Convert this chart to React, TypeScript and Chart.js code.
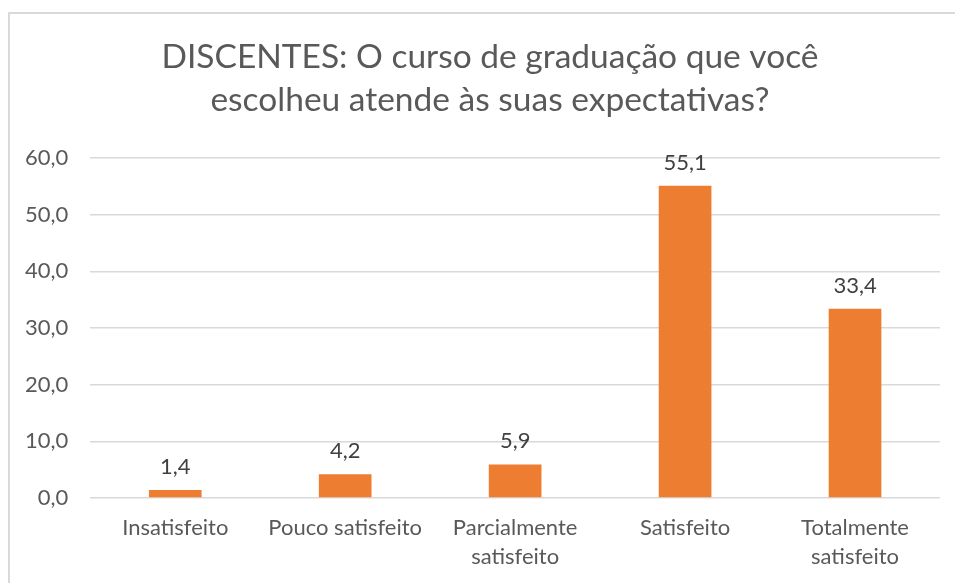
import React, { useEffect, useRef } from "react";
import { Chart, registerables } from "chart.js";

Chart.register(...registerables);

const categories: (string | string[])[] = [
  "Insatisfeito",
  "Pouco satisfeito",
  ["Parcialmente", "satisfeito"],
  "Satisfeito",
  ["Totalmente", "satisfeito"],
];
const values: number[] = [1.4, 4.2, 5.9, 55.1, 33.4];
const titleLines: string[] = [
  "DISCENTES: O curso de graduação que você",
  "escolheu atende às suas expectativas?",
];
const yMin = 0;
const yMax = 60;
const yStep = 10;

const FONT = "Lato, 'Open Sans', sans-serif";
const TEXT = "#595959";

const fmt = (v: number) => v.toFixed(1).replace(".", ",");

const dataLabels = {
  id: "dataLabels",
  afterDatasetsDraw(chart: any) {
    const ctx = chart.ctx;
    const meta = chart.getDatasetMeta(0);
    ctx.save();
    ctx.font = `22px ${FONT}`;
    ctx.fillStyle = "#404040";
    ctx.textAlign = "center";
    ctx.textBaseline = "alphabetic";
    meta.data.forEach((bar: any, i: number) => {
      ctx.fillText(fmt(values[i]), bar.x, bar.y - 16);
    });
    ctx.restore();
  },
};

const titlePlugin = {
  id: "excelTitle",
  afterDraw(chart: any) {
    const ctx = chart.ctx;
    ctx.save();
    ctx.font = `33.5px ${FONT}`;
    ctx.fillStyle = TEXT;
    ctx.textAlign = "center";
    ctx.textBaseline = "middle";
    titleLines.forEach((line, i) => {
      ctx.fillText(line, 490, 57 + i * 43);
    });
    ctx.restore();
  },
};

export default function App() {
  const ref = useRef<HTMLCanvasElement | null>(null);
  useEffect(() => {
    document.body.style.margin = "0";
    if (!ref.current) return;
    const chart = new Chart(ref.current, {
      type: "bar",
      data: {
        labels: categories as any,
        datasets: [
          {
            data: values,
            backgroundColor: "#ED7D31",
            categoryPercentage: 1,
            barPercentage: 0.31,
          },
        ],
      },
      options: {
        animation: false,
        responsive: false,
        maintainAspectRatio: false,
        layout: { padding: { left: 3, right: 15, top: 158, bottom: 5 } },
        plugins: {
          legend: { display: false },
          tooltip: { enabled: false },
          title: { display: false },
        },
        scales: {
          x: {
            grid: { display: false },
            border: { display: false },
            ticks: {
              color: TEXT,
              font: { family: FONT, size: 22, lineHeight: 1.32 },
              padding: 7,
              maxRotation: 0,
              autoSkip: false,
            },
          },
          y: {
            min: yMin,
            max: yMax,
            border: { display: false },
            grid: { color: "#d9d9d9", lineWidth: 1.5, drawTicks: false },
            ticks: {
              stepSize: yStep,
              color: TEXT,
              font: { family: FONT, size: 22 },
              padding: 22,
              callback: (v: any) => fmt(Number(v)),
            },
          },
        },
      },
      plugins: [dataLabels, titlePlugin],
    });
    return () => chart.destroy();
  }, []);
  return (
    <div style={{ position: "relative", width: 955, height: 583, overflow: "hidden", background: "#fff" }}>
      <div
        style={{
          position: "absolute",
          left: 8,
          top: 12,
          width: 1000,
          height: 700,
          border: "2px solid #d9d9d9",
          boxSizing: "border-box",
        }}
      />
      <canvas ref={ref} width={955} height={583} style={{ position: "absolute", left: 0, top: 0 }} />
    </div>
  );
}
